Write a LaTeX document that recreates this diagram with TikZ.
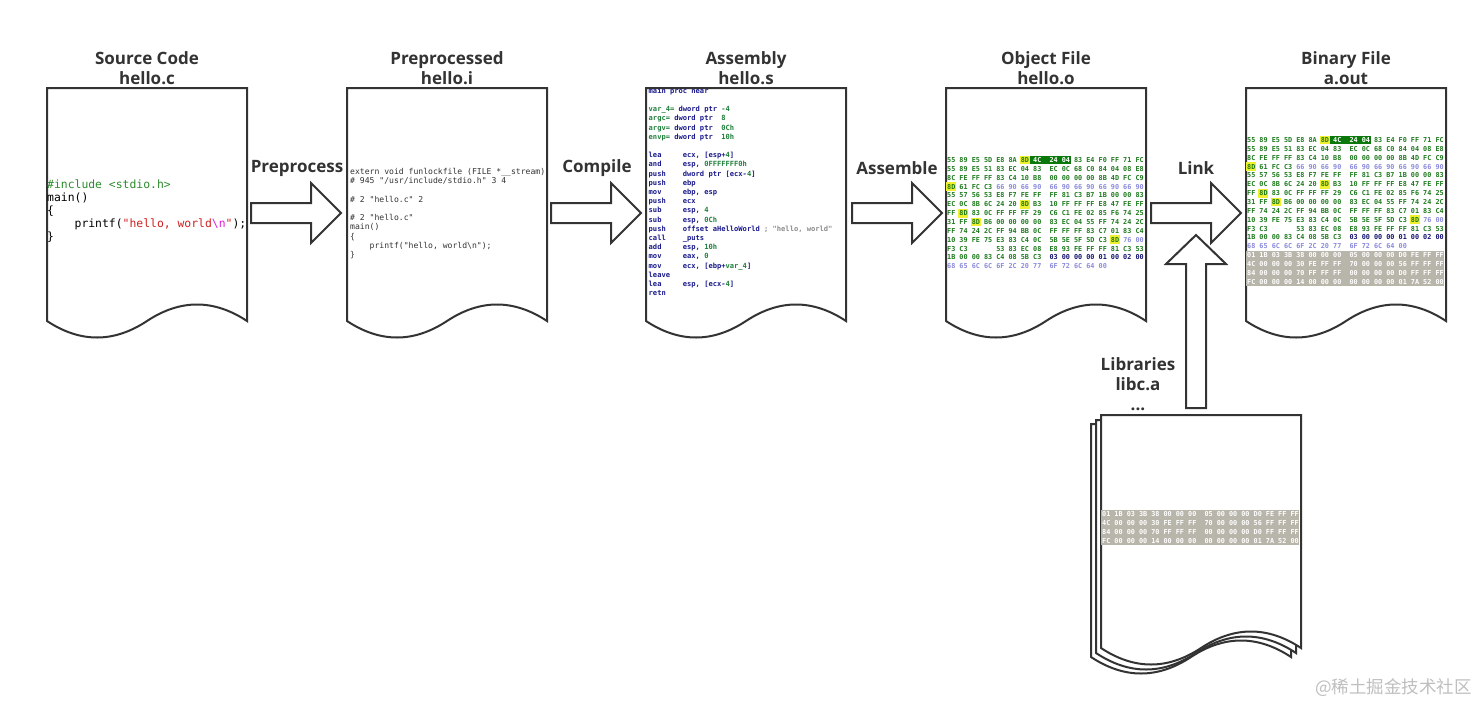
\documentclass[tikz,border=0pt]{standalone}
\usepackage{fontspec}
\setmainfont{Open Sans}
\newfontfamily\codefont{DejaVu Sans Mono}
\newfontfamily\cjkfont{Noto Sans CJK SC}
\definecolor{ink}{HTML}{333333}
\definecolor{hexgreen}{HTML}{1E7A1E}
\definecolor{hexnavy}{HTML}{10106E}
\definecolor{hexlav}{HTML}{8A8ADC}
\definecolor{hlyellow}{HTML}{EEF030}
\definecolor{hldark}{HTML}{0B780B}
\definecolor{bandgray}{HTML}{B8B5AA}
\definecolor{asmnavy}{HTML}{1A1A8C}
\definecolor{asmgreen}{HTML}{1E7F3A}
\definecolor{cgreen}{HTML}{2E8B2E}
\definecolor{cred}{HTML}{D02020}
\definecolor{cmag}{HTML}{E020E0}
\newcommand\hG[1]{\textcolor{hexgreen}{#1}}
\newcommand\hN[1]{\textcolor{hexnavy}{#1}}
\newcommand\hL[1]{\textcolor{hexlav}{#1}}
\newcommand\hW[1]{\textcolor{white}{#1}}
\newcommand\aN[1]{\textcolor{asmnavy}{#1}}
\newcommand\aG[1]{\textcolor{asmgreen}{#1}}
\newcommand\aK[1]{\textcolor{black!45}{#1}}
\newcommand\hlbox[3]{\fill[#1] ({1+4.094*(3*#3+(#3>7))-0.8},{8.85*#2-4.4}) rectangle ++(9.8,8.8);}
\newcommand\hexline[2]{\node[hexrow] at (1,{8.85*#1+2.5}) {#2};}
\newcommand\objrows{%
  \fill[hldark] ({1+4.094*18-0.8},-4.4) rectangle ({1+4.094*30+0.8},4.4);
  \hlbox{hlyellow}{0}{6}\hlbox{hlyellow}{3}{0}\hlbox{hlyellow}{5}{6}
  \hlbox{hlyellow}{6}{1}\hlbox{hlyellow}{7}{2}\hlbox{hlyellow}{9}{13}
  \hexline{0}{\hG{55 89 E5 5D E8 8A 8D} \hW{4C~~24 04} \hG{83 E4 F0 FF 71 FC}}
  \hexline{1}{\hG{55 89 E5 51 83 EC 04 83~~EC 0C 68 C0 84 04 08 E8}}
  \hexline{2}{\hG{8C FE FF FF 83 C4 10 B8~~00 00 00 00 8B 4D FC C9}}
  \hexline{3}{\hG{8D 61 FC C3} \hL{66 90 66 90~~66 90 66 90 66 90 66 90}}
  \hexline{4}{\hG{55 57 56 53 E8 F7 FE FF~~FF 81 C3 B7 1B 00 00 83}}
  \hexline{5}{\hG{EC 0C 8B 6C 24 20 8D B3~~10 FF FF FF E8 47 FE FF}}
  \hexline{6}{\hG{FF 8D 83 0C FF FF FF 29~~C6 C1 FE 02 85 F6 74 25}}
  \hexline{7}{\hG{31 FF 8D B6 00 00 00 00~~83 EC 04 55 FF 74 24 2C}}
  \hexline{8}{\hG{FF 74 24 2C FF 94 BB 0C~~FF FF FF 83 C7 01 83 C4}}
  \hexline{9}{\hG{10 39 FE 75 E3 83 C4 0C~~5B 5E 5F 5D C3 8D} \hL{76 00}}
  \hexline{10}{\hG{F3 C3~~~~~~~53 83 EC 08~~E8 93 FE FF FF 81 C3 53}}
  \hexline{11}{\hG{1B 00 00 83 C4 08 5B C3}~~\hN{03 00 00 00 01 00 02 00}}
  \hexline{12}{\hL{68 65 6C 6C 6F 2C 20 77~~6F 72 6C 64 00}}}
\newcommand\grayrows{%
  \fill[bandgray] (0,-4.4) rectangle (198,{8.85*3+4.4});
  \hexline{0}{\textcolor{white}{01 1B 03 3B 38 00 00 00~~05 00 00 00 D0 FE FF FF}}
  \hexline{1}{\textcolor{white}{4C 00 00 00 30 FE FF FF~~70 00 00 00 56 FF FF FF}}
  \hexline{2}{\textcolor{white}{84 00 00 00 70 FF FF FF~~00 00 00 00 D0 FF FF FF}}
  \hexline{3}{\textcolor{white}{FC 00 00 00 14 00 00 00~~00 00 00 00 01 7A 52 00}}}
\tikzset{
  docline/.style={draw=ink, line width=2pt, fill=white},
  paperdoc/.pic={\path[docline] (0,0) -- (200,0) -- (200,233)
     .. controls (166.7,211) and (133.3,211) .. (100,233)
     .. controls (66.7,255) and (33.3,255) .. (0,233) -- cycle;},
  title/.style={font=\fontsize{17}{20}\selectfont\bfseries, text=ink, align=center, inner sep=0},
  lbl/.style={font=\fontsize{17}{20}\selectfont\bfseries, text=ink, inner sep=0},
  hexrow/.style={anchor=base west, inner sep=0, font=\codefont\bfseries\fontsize{6.8}{8}\selectfont},
  srcline/.style={anchor=base west, inner sep=0, font=\codefont\fontsize{11.4}{13}\selectfont},
  ppline/.style={anchor=base west, inner sep=0, text=ink, font=\codefont\fontsize{8.1}{9}\selectfont},
  asmline/.style={anchor=base west, inner sep=0, font=\codefont\bfseries\fontsize{7.1}{9}\selectfont},
  blockarrow/.style={draw=ink, line width=2pt, fill=white},
}
\begin{document}
\begin{tikzpicture}[x=1pt,y=-1pt]
\useasboundingbox[fill=white] (0,0) rectangle (1478,707);
% documents
\pic at (47,88) {paperdoc};
\pic at (347,88) {paperdoc};
\pic at (646,88) {paperdoc};
\pic at (946,88) {paperdoc};
\pic at (1246,88) {paperdoc};
\pic at (1091,424) {paperdoc};
\pic at (1096,420) {paperdoc};
\pic at (1101,415) {paperdoc};
% titles
\node[title] (t1) at (147,68) {Source Code\\hello.c};
\node[title] (t2) at (447,68) {Preprocessed\\hello.i};
\node[title] (t3) at (746,68) {Assembly\\hello.s};
\node[title] (t4) at (1046,68) {Object File\\hello.o};
\node[title] (t5) at (1346,68) {Binary File\\a.out};
\node[title] (t6) at (1138,384) {Libraries\\libc.a\\...};
% source code
\node[srcline] (s1) at (47,188) {\textcolor{cgreen}{\#include <stdio.h>}};
\node[srcline] (s2) at (47,201) {main()};
\node[srcline] (s3) at (47,214) {\{};
\node[srcline] (s4) at (47,227) {~~~~printf(\textcolor{cred}{"hello, world}\textcolor{cmag}{\textbackslash n}\textcolor{cred}{"});};
\node[srcline] (s5) at (47,240) {\}};
% preprocessed
\begin{scope}[shift={(350,174.7)}]
\node[ppline] (p1) at (0,0) {extern void funlockfile (FILE *\_\_stream)};
\node[ppline] (p2) at (0,9.2) {\#~945 "/usr/include/stdio.h" 3 4};
\node[ppline] (p3) at (0,27.6) {\#~2 "hello.c" 2};
\node[ppline] (p4) at (0,46) {\#~2 "hello.c"};
\node[ppline] (p5) at (0,55.2) {main()};
\node[ppline] (p6) at (0,64.4) {\{};
\node[ppline] (p7) at (0,73.6) {~~~~printf("hello, world\textbackslash n");};
\node[ppline] (p8) at (0,82.8) {\}};
\end{scope}
% assembly
\begin{scope}[shift={(648.5,93.3)}]
\node[asmline] (a0) at (0,0) {\aN{main proc near}};
\node[asmline] (a2) at (0,18.4) {\aG{var\_4=} \aN{dword ptr} \aG{-4}};
\node[asmline] (a3) at (0,27.6) {\aG{argc=} \aN{dword ptr}~~\aG{8}};
\node[asmline] (a4) at (0,36.8) {\aG{argv=} \aN{dword ptr}~~\aG{0Ch}};
\node[asmline] (a5) at (0,46) {\aG{envp=} \aN{dword ptr}~~\aG{10h}};
\node[asmline] (a7) at (0,64.4) {\aN{lea~~~~~ecx, [esp+}\aG{4}\aN{]}};
\node[asmline] (a8) at (0,73.6) {\aN{and~~~~~esp,} \aG{0FFFFFFF0h}};
\node[asmline] (a9) at (0,82.8) {\aN{push~~~~dword ptr [ecx-}\aG{4}\aN{]}};
\node[asmline] (a10) at (0,92) {\aN{push~~~~ebp}};
\node[asmline] (a11) at (0,101.2) {\aN{mov~~~~~ebp, esp}};
\node[asmline] (a12) at (0,110.4) {\aN{push~~~~ecx}};
\node[asmline] (a13) at (0,119.6) {\aN{sub~~~~~esp,} \aG{4}};
\node[asmline] (a14) at (0,128.8) {\aN{sub~~~~~esp,} \aG{0Ch}};
\node[asmline] (a15) at (0,138) {\aN{push~~~~offset aHelloWorld} \aK{; "hello, world"}};
\node[asmline] (a16) at (0,147.2) {\aN{call~~~~\_puts}};
\node[asmline] (a17) at (0,156.4) {\aN{add~~~~~esp,} \aG{10h}};
\node[asmline] (a18) at (0,165.6) {\aN{mov~~~~~eax,} \aG{0}};
\node[asmline] (a19) at (0,174.8) {\aN{mov~~~~~ecx, [ebp+}\aG{var\_4}\aN{]}};
\node[asmline] (a20) at (0,184) {\aN{leave}};
\node[asmline] (a21) at (0,193.2) {\aN{lea~~~~~esp, [ecx-}\aG{4}\aN{]}};
\node[asmline] (a22) at (0,202.4) {\aN{retn}};
\end{scope}
% object file
\begin{scope}[shift={(946,160)}]\objrows\end{scope}
% binary file
\begin{scope}[shift={(1246,140)}]\objrows\end{scope}
\begin{scope}[shift={(1246,255.3)}]\grayrows\end{scope}
% libraries band
\begin{scope}[shift={(1101,514)}]\grayrows\end{scope}
% block arrows
\foreach \x in {251,551,852,1151}{
  \path[blockarrow] (\x,203) -- (\x+60,203) -- (\x+60,183) -- (\x+90,213) -- (\x+60,243) -- (\x+60,223) -- (\x,223) -- cycle;
}
\path[blockarrow] (1186,408) -- (1186,264) -- (1166,264) -- (1196,235) -- (1226,264) -- (1206,264) -- (1206,408) -- cycle;
\node[lbl] (l1) at (297,168) {Preprocess};
\node[lbl] (l2) at (597,168) {Compile};
\node[lbl] (l3) at (897,168) {Assemble};
\node[lbl] (l4) at (1196,168) {Link};
% watermark
\node[inner sep=0, anchor=east, text=black!25, font=\cjkfont\fontsize{17.5}{20}\selectfont] (wm) at (1472,688) {@稀土掘金技术社区};
\end{tikzpicture}
\end{document}
